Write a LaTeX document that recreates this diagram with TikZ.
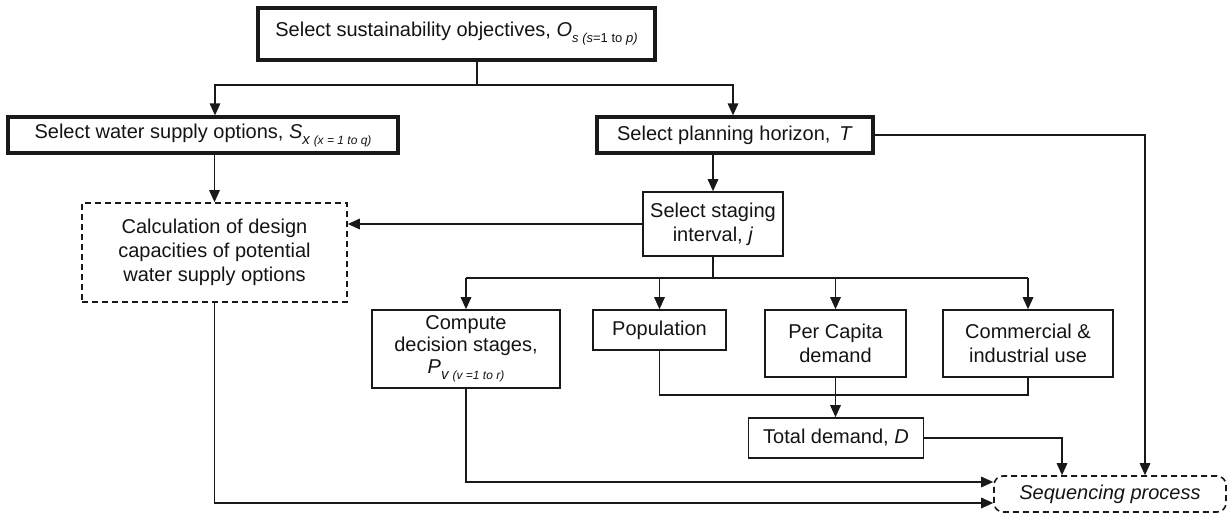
\documentclass[tikz,border=0pt]{standalone}
\usepackage{fontspec}
\setmainfont{Liberation Sans}
\usetikzlibrary{arrows.meta}
% lowered, smaller text for index ranges
\newcommand\lowtxt[2][13]{\raisebox{-0.3em}{\fontsize{#1}{#1}\selectfont #2}}

\begin{document}
\begin{tikzpicture}[x=1pt,y=-1pt,
  box/.style={draw=black!90, line width=1.6pt, align=center, inner sep=0pt,
    text=black!92, font=\fontsize{20}{24}\selectfont},
  thickbox/.style={box, line width=3.2pt},
  dashbox/.style={box, dash pattern=on 6pt off 4pt},
  link/.style={draw=black!90, line width=1.6pt},
  arr/.style={link, -{Triangle[length=12pt,width=10.5pt]}},
]
\useasboundingbox (0,0) rectangle (1230,515);

% boxes
\node[thickbox, minimum width=397pt, minimum height=52pt] (obj) at (456.5,34)
  {Select sustainability objectives, \textit{O}\lowtxt{\textit{s (s}=1 to \textit{p)}}};
\node[thickbox, minimum width=390pt, minimum height=36pt] (water) at (203,135)
  {Select water supply options, \textit{S}\lowtxt[15]{\textit{x}}\lowtxt[12]{\textit{ (x = 1 to q)}}};
\node[thickbox, minimum width=276pt, minimum height=36pt] (plan) at (735,135)
  {Select planning horizon, \,\textit{T}};
\node[dashbox, minimum width=265pt, minimum height=99pt] (calc) at (214.5,252.5)
  {Calculation of design\\capacities of potential\\water supply options};
\node[box, minimum width=140pt, minimum height=64pt] (stage) at (713,224)
  {Select staging\\interval, \textit{j}};
\node[box, font=\fontsize{20}{22}\selectfont, minimum width=188pt, minimum height=78pt] (comp) at (466,349)
  {Compute\\decision stages,\\\textit{P}\lowtxt[15]{\textit{v}}\lowtxt[12]{\textit{ (v =1 to r)}}};
\node[box, minimum width=133pt, minimum height=40pt] (pop) at (659.5,330) {Population};
\node[box, minimum width=141pt, minimum height=67pt] (cap) at (835.5,343.5)
  {Per Capita\\demand};
\node[box, minimum width=170pt, minimum height=67pt] (comm) at (1028,343.5)
  {Commercial \&\\industrial use};
\node[box, minimum width=175pt, minimum height=40pt] (tot) at (836,438)
  {Total demand, \textit{D}};
\node[dashbox, rounded corners=9pt, minimum width=232pt, minimum height=36pt] (seq) at (1110,494)
  {\textit{Sequencing process}};

% helper coordinates for the branching rows
\coordinate (split1) at (477,85);
\coordinate (split2) at (713,278);
\coordinate (joinrow) at (0,395);

% objectives -> water supply / planning horizon
\draw[link] (obj.south -| split1) -- (split1);
\draw[arr] (split1) -| ([xshift=12pt]water.north);
\draw[arr] (split1) -| ([xshift=-2pt]plan.north);

% water supply -> design capacities
\draw[arr] (calc.north |- water.south) -- (calc.north);

% planning horizon -> staging interval, and on to sequencing
\draw[arr] (stage.north |- plan.south) -- (stage.north);
\draw[arr] (plan.east) -| ([xshift=35pt]seq.north);

% staging interval -> design capacities
\draw[arr] (stage.west) -- (calc.east |- stage.west);

% staging interval -> the four demand / stage boxes
\draw[link] (stage.south) -- (split2);
\draw[link] (comp.north |- split2) -- (comm.north |- split2);
\foreach \n in {comp,pop,cap,comm}
  \draw[arr] (\n.north |- split2) -- (\n.north);

% demand components -> total demand
\draw[link] (pop.south) |- (comm.south |- joinrow) -- (comm.south);
\draw[arr] (cap.south) -- (tot.north -| cap.south);

% inputs to the sequencing process
\draw[arr] (tot.east) -| ([xshift=-48pt]seq.north);
\draw[arr] (comp.south) |- ([yshift=12pt]seq.west);
\draw[arr] (calc.south) |- ([yshift=-9pt]seq.west);
\end{tikzpicture}
\end{document}
